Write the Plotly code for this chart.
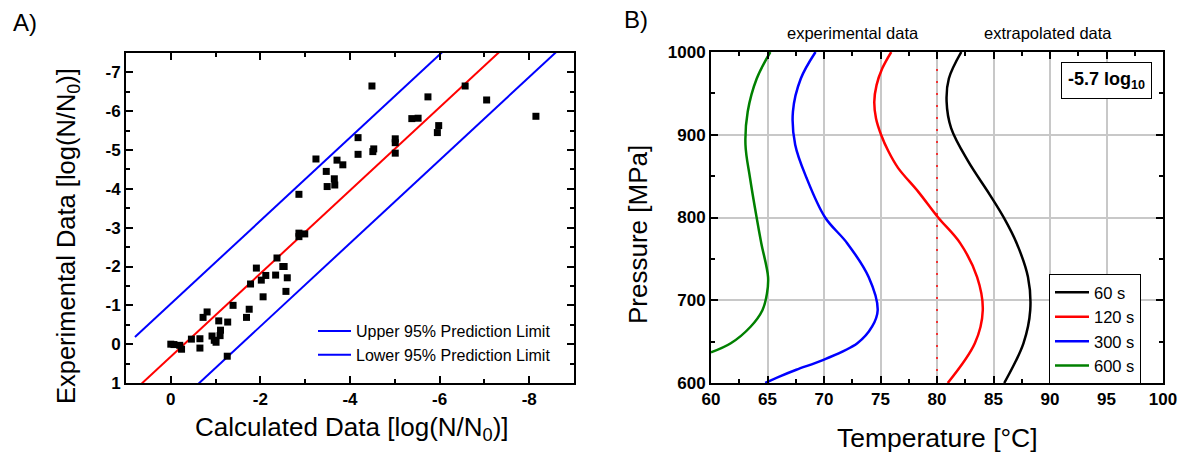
import plotly.graph_objects as go

W, H = 1180, 455

# ---------------- Panel A data ----------------
calc_data = [0.0, -0.07, -0.2, -0.24, -0.46, -0.65, -0.65, -0.72, -0.81, -0.92,
             -0.97, -1.01, -1.07, -1.11, -1.10, -1.27, -1.26, -1.39, -1.69, -1.75,
             -1.78, -1.91, -2.02, -2.06, -2.12, -2.34, -2.37, -2.50, -2.53, -2.60,
             -2.57, -2.86, -2.86, -2.99, -2.86, -3.24, -3.47, -3.49, -3.65, -3.66,
             -3.71, -3.84, -4.18, -4.18, -4.49, -4.51, -4.53, -5.01, -5.01, -5.01,
             -5.38, -5.52, -5.74, -5.95, -5.98, -6.57, -7.05, -8.15]
expt_data = [0.0, 0.01, 0.03, 0.13, -0.13, -0.14, 0.10, -0.69, -0.83, -0.21,
             -0.10, -0.05, -0.60, -0.36, -0.22, -0.57, 0.31, -1.00, -0.69, -0.90,
             -1.55, -1.96, -1.65, -1.22, -1.77, -1.78, -2.22, -2.00, -2.00, -1.71,
             -1.36, -2.77, -2.86, -2.84, -3.86, -4.77, -4.45, -4.06, -4.26, -4.10,
             -4.74, -4.62, -5.32, -4.89, -6.65, -4.96, -5.03, -5.29, -5.19, -4.92,
             -5.81, -5.82, -6.37, -5.45, -5.63, -6.65, -6.29, -5.87]

fit_slope = 1.07
fit_intercept = 0.32
pred_halfwidth = 1.36
line_x = [0.8, -9.0]

x_ticks_a = [0, -2, -4, -6, -8]
y_ticks_a = [1, 0, -1, -2, -3, -4, -5, -6, -7]

# ---------------- Panel B data ----------------
p_60 = [1000, 968, 940, 908, 868, 828, 799, 769, 728, 688, 648, 600]
t_60 = [82.15, 81.05, 80.85, 81.25, 82.75, 84.65, 85.95, 87.05, 88.05, 88.25, 87.65, 85.95]
p_120 = [1000, 980, 960, 940, 920, 900, 880, 860, 831, 800, 769, 728, 688, 648, 600]
t_120 = [75.95, 75.15, 74.65, 74.45, 74.6, 75.05, 75.7, 76.55, 78.35, 80.1, 82.05, 83.55, 84.05, 83.35, 80.95]
p_300 = [1000, 968, 928, 888, 848, 800, 769, 728, 688, 668, 648, 628, 616, 608, 600]
t_300 = [69.25, 67.95, 67.25, 67.45, 68.45, 70.1, 72.05, 73.95, 74.75, 74.25, 72.95, 69.95, 67.55, 66.1, 64.8]
p_600 = [1000, 968, 928, 888, 848, 799, 769, 728, 708, 688, 668, 648, 637]
t_600 = [65.25, 64.05, 63.25, 63.05, 63.45, 64.05, 64.45, 65.05, 64.95, 64.55, 63.5, 61.75, 60.0]
limit_temp = 80
limit_p = [600, 988]

x_ticks_b = [60, 65, 70, 75, 80, 85, 90, 95, 100]
y_ticks_b = [600, 700, 800, 900, 1000]

FONT = "Liberation Sans, Arial, sans-serif"


def px(x):
    return x / W


def py(y):
    return 1 - y / H


def bold(vals):
    return ["<b>%s</b>" % v for v in vals]


fig = go.Figure()

# Panel A
upper_y = [fit_slope * x + fit_intercept - pred_halfwidth for x in line_x]
lower_y = [fit_slope * x + fit_intercept + pred_halfwidth for x in line_x]
fit_y = [fit_slope * x + fit_intercept for x in line_x]

fig.add_trace(go.Scatter(x=line_x, y=upper_y, mode="lines", line=dict(color="#0000ff", width=2),
                         name="Upper 95% Prediction Limit", xaxis="x", yaxis="y", legend="legend"))
fig.add_trace(go.Scatter(x=line_x, y=lower_y, mode="lines", line=dict(color="#0000ff", width=2),
                         name="Lower 95% Prediction Limit", xaxis="x", yaxis="y", legend="legend"))
fig.add_trace(go.Scatter(x=line_x, y=fit_y, mode="lines", line=dict(color="#ff0000", width=2),
                         showlegend=False, xaxis="x", yaxis="y"))
fig.add_trace(go.Scatter(x=calc_data, y=expt_data, mode="markers",
                         marker=dict(symbol="square", size=7, color="black"),
                         showlegend=False, xaxis="x", yaxis="y"))

# Panel B
fig.add_trace(go.Scatter(x=[limit_temp, limit_temp], y=limit_p, mode="lines",
                         line=dict(color="#ff0000", width=1.5, dash="2px,10px"),
                         showlegend=False, xaxis="x2", yaxis="y2"))
for t, p, c, n in [(t_60, p_60, "#000000", "60 s"), (t_120, p_120, "#ff0000", "120 s"),
                   (t_300, p_300, "#0000ff", "300 s"), (t_600, p_600, "#008000", "600 s")]:
    fig.add_trace(go.Scatter(x=t, y=p, mode="lines", line=dict(color=c, width=2.5, shape="spline", smoothing=1),
                             name=n, xaxis="x2", yaxis="y2", legend="legend2"))

tickfont = dict(family=FONT, size=17, color="black")
common = dict(showline=True, linecolor="black", linewidth=2, mirror="allticks", ticks="inside",
              ticklen=7, tickwidth=2, tickcolor="black", tickfont=tickfont, zeroline=False,
              automargin=False)

fig.update_layout(
    width=W, height=H, margin=dict(l=0, r=0, t=0, b=0),
    paper_bgcolor="white", plot_bgcolor="white",
    font=dict(family=FONT, color="black"),
    xaxis=dict(domain=[px(126), px(574)], range=[1, -9], tickvals=x_ticks_a,
               ticktext=bold(x_ticks_a), showgrid=False,
               minor=dict(ticks="inside", ticklen=4, tickwidth=2, tickcolor="black", dtick=1, tick0=0),
               anchor="y", **common),
    yaxis=dict(domain=[py(383), py(53)], range=[1, -7.5], tickvals=y_ticks_a,
               ticktext=bold(y_ticks_a), showgrid=False,
               minor=dict(ticks="inside", ticklen=4, tickwidth=2, tickcolor="black", dtick=0.5, tick0=0),
               anchor="x", **common),
    xaxis2=dict(domain=[px(711), px(1163)], range=[60, 100], tickvals=x_ticks_b,
                ticktext=bold(x_ticks_b),
                showgrid=True, gridcolor="#c8c8c8", gridwidth=1.5,
                minor=dict(ticks="inside", ticklen=4, tickwidth=2, tickcolor="black", dtick=2.5, tick0=60),
                anchor="y2", **common),
    yaxis2=dict(domain=[py(383), py(52)], range=[600, 1000], tickvals=y_ticks_b,
                ticktext=bold(y_ticks_b),
                showgrid=True, gridcolor="#c8c8c8", gridwidth=1.5,
                minor=dict(ticks="inside", ticklen=4, tickwidth=2, tickcolor="black", dtick=50, tick0=600),
                anchor="x2", **common),
    legend=dict(x=px(313), y=py(314), xanchor="left", yanchor="top", bgcolor="rgba(0,0,0,0)",
                borderwidth=0, itemwidth=33, font=dict(family=FONT, size=16, color="black"),
                tracegroupgap=0),
    legend2=dict(x=px(1049), y=py(274), xanchor="left", yanchor="top", bgcolor="white",
                 bordercolor="black", borderwidth=1, itemwidth=34,
                 font=dict(family=FONT, size=16.5, color="black"), tracegroupgap=0),
)

ann = [
    dict(text="A)", x=px(25), y=py(22), font=dict(size=24)),
    dict(text="B)", x=px(636), y=py(20), font=dict(size=24)),
    dict(text="Calculated Data [log(N/N<sub>0</sub>)]", x=px(352), y=py(428), font=dict(size=26)),
    dict(text="Experimental Data [log(N/N<sub>0</sub>)]", x=px(68), y=py(236), font=dict(size=25.5), textangle=-90),
    dict(text="Temperature [°C]", x=px(937), y=py(438), font=dict(size=26.5)),
    dict(text="Pressure [MPa]", x=px(638), y=py(235), font=dict(size=26), textangle=-90),
    dict(text="experimental data", x=px(853), y=py(33), font=dict(size=16.5)),
    dict(text="extrapolated data", x=px(1048), y=py(33), font=dict(size=16.5)),
    dict(text="<b>-5.7 log<sub>10</sub></b>", x=px(1106), y=py(80), font=dict(size=18),
         bordercolor="black", borderwidth=1, borderpad=6, bgcolor="white"),
]
for a in ann:
    f = dict(family=FONT, color="black")
    f.update(a.pop("font"))
    fig.add_annotation(xref="paper", yref="paper", showarrow=False, xanchor="center", yanchor="middle",
                       font=f, **a)

fig.write_html("out.html", config={"displayModeBar": False},
               post_script="document.body.style.margin='0px';")
